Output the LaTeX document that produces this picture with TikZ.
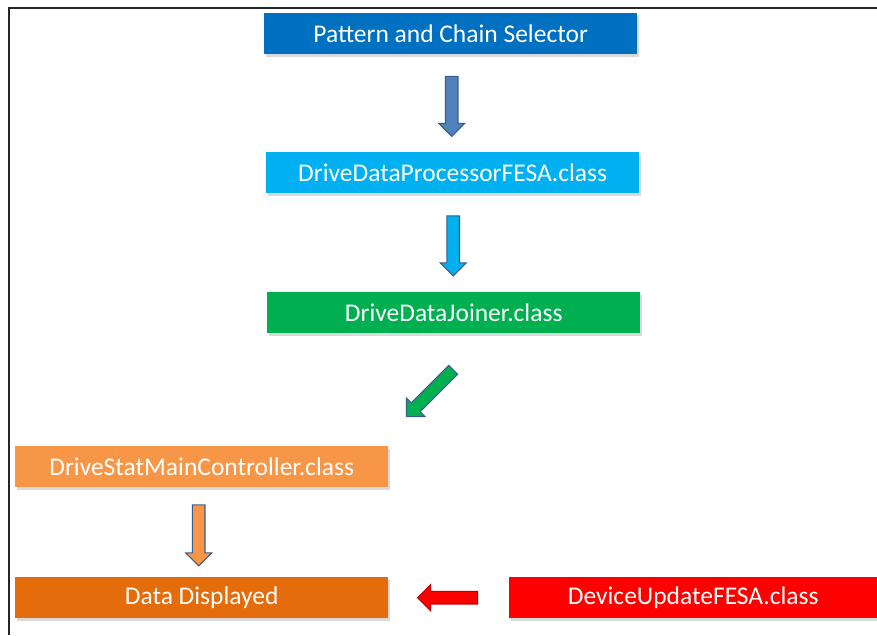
\documentclass[tikz,border=0pt]{standalone}
\usepackage{fontspec}
\setmainfont{Carlito}
\usetikzlibrary{shapes.arrows,shadows,calc}
\definecolor{FlowBlue}{HTML}{0070C0}
\definecolor{FlowCyan}{HTML}{00B0F0}
\definecolor{FlowGreen}{HTML}{00B050}
\definecolor{FlowLight}{HTML}{F79646}
\definecolor{FlowOrange}{HTML}{E46C0A}
\definecolor{FlowRed}{HTML}{FF0000}
\definecolor{ArrowSteel}{HTML}{4F81BD}
\definecolor{ArrowEdge}{HTML}{385D8A}
\definecolor{ArrowRedEdge}{HTML}{C00000}
\tikzset{
  stagebox/.style={anchor=north west, minimum width=373pt, minimum height=41pt,
                   inner sep=0pt, text=white, font=\fontsize{25.5}{28}\selectfont,
                   drop shadow={opacity=0.3, shadow xshift=1.5pt, shadow yshift=-2.5pt}},
  blockarrow/.style={single arrow, minimum height=60pt, minimum width=26pt,
                     single arrow head extend=6.5pt, inner xsep=0pt, inner ysep=5.5pt,
                     line width=1.1pt},
  frameline/.style={draw=black!85, line width=1.8pt},
}

\begin{document}
\begin{tikzpicture}[x=1pt, y=-1pt]
  \useasboundingbox (0,0) rectangle (877,635);

  % Frame
  \draw[frameline] (9,635) -- (9,8) -- (877,8);

  % Processing chain
  \node[stagebox, fill=FlowBlue] (sel) at (264,13) {Pattern and Chain Selector};
  \node[stagebox, fill=FlowCyan] (proc) at (266,152) {DriveDataProcessorFESA.class};
  \node[stagebox, fill=FlowGreen] (join) at (267,292) {DriveDataJoiner.class};
  \node[stagebox, fill=FlowLight] (ctrl) at (15,446) {DriveStatMainController.class};
  \node[stagebox, fill=FlowOrange] (disp) at (15,577) {Data Displayed};
  \node[stagebox, fill=FlowRed, minimum width=368pt] (dev) at (509,577) {DeviceUpdateFESA.class};

  % Block arrows
  \node[blockarrow, fill=ArrowSteel, draw=ArrowEdge, rotate=-90] (selproc)
        at ($(sel.south)!0.5!(proc.north)$) {};
  \node[blockarrow, fill=FlowCyan, draw=ArrowEdge, rotate=-90] (procjoin)
        at ($(proc.south)!0.5!(join.north)$) {};
  \node[blockarrow, fill=FlowGreen, draw=ArrowEdge, rotate=-135, minimum height=66pt] (joinctrl)
        at (432,391) {};
  \node[blockarrow, fill=FlowLight, draw=ArrowEdge, rotate=-90, minimum height=61pt] (ctrldisp)
        at ($(ctrl.south)!0.5!(disp.north)+(-3,0)$) {};
  \node[blockarrow, fill=FlowRed, draw=ArrowRedEdge, rotate=180] (devdisp)
        at ($(disp.east)!0.5!(dev.west)+(2,0)$) {};

\end{tikzpicture}
\end{document}
